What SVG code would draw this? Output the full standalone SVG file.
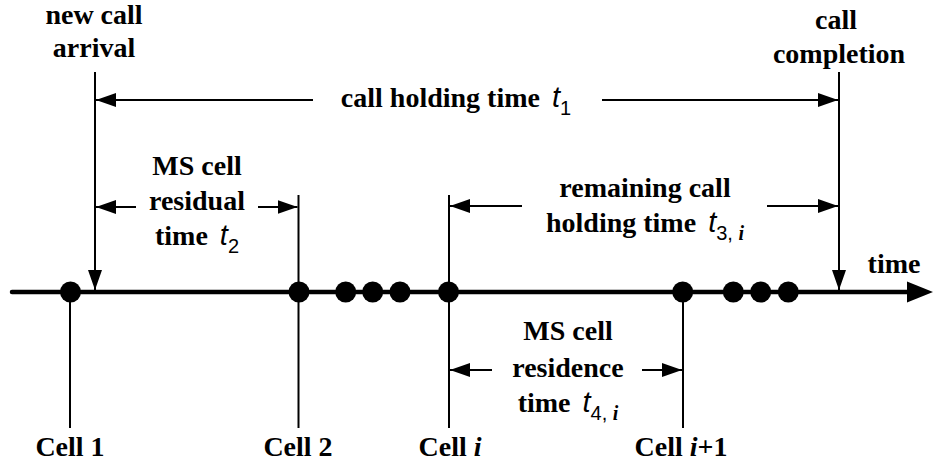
<svg xmlns="http://www.w3.org/2000/svg" width="934" height="467" viewBox="0 0 934 467">
  <style>
    .lbl { font-family: "Liberation Serif", "Times New Roman", serif; font-weight: bold; font-size: 28px; fill: #000; }
    .var { font-family: "Liberation Sans", Arial, sans-serif; font-style: italic; font-weight: normal; font-size: 29px; }
    .sub { font-family: "Liberation Sans", Arial, sans-serif; font-style: normal; font-weight: normal; font-size: 20px; }
    .idx { font-family: "Liberation Serif", "Times New Roman", serif; font-style: italic; font-weight: bold; }
    .thin { stroke: #000; stroke-width: 2; fill: none; }
    .dim { stroke: #000; stroke-width: 2; fill: none; marker-end: url(#ah); }
    .dot { fill: #000; }
  </style>
  <defs>
    <marker id="ah" viewBox="0 0 20 14" refX="20" refY="7" markerWidth="20" markerHeight="14" markerUnits="userSpaceOnUse" orient="auto">
      <path d="M0,0 L20,7 L0,14 z" fill="#000"/>
    </marker>
  </defs>

  <!-- time axis -->
  <g id="axis">
    <line x1="12" y1="292" x2="912" y2="292" stroke="#000" stroke-width="4.5" stroke-linecap="round"/>
    <polygon points="907,281.5 933,292 907,302.5" fill="#000"/>
    <text class="lbl" x="894" y="273" text-anchor="middle">time</text>
  </g>

  <!-- call events -->
  <g id="arrival">
    <line class="dim" x1="95" y1="72" x2="95" y2="290"/>
    <text class="lbl" x="94" y="24" text-anchor="middle">new call</text>
    <text class="lbl" x="94" y="57" text-anchor="middle">arrival</text>
  </g>
  <g id="completion">
    <line class="dim" x1="839" y1="72" x2="839" y2="290"/>
    <text class="lbl" x="836" y="29" text-anchor="middle">call</text>
    <text class="lbl" x="839" y="63" text-anchor="middle">completion</text>
  </g>

  <!-- cell boundaries -->
  <g id="cell1">
    <line class="thin" x1="70" y1="292" x2="70" y2="428"/>
    <circle class="dot" cx="70.5" cy="292" r="10.5"/>
    <text class="lbl" x="70" y="456" text-anchor="middle">Cell 1</text>
  </g>
  <g id="cell2">
    <line class="thin" x1="298.5" y1="195" x2="298.5" y2="428"/>
    <circle class="dot" cx="299" cy="292" r="10.5"/>
    <text class="lbl" x="298" y="456" text-anchor="middle">Cell 2</text>
  </g>
  <g id="gap1">
    <circle class="dot" cx="345.7" cy="292" r="10.5"/>
    <circle class="dot" cx="372.7" cy="292" r="10.5"/>
    <circle class="dot" cx="400" cy="292" r="10.5"/>
  </g>
  <g id="celli">
    <line class="thin" x1="449" y1="195" x2="449" y2="428"/>
    <circle class="dot" cx="448.5" cy="292" r="10.5"/>
    <text class="lbl" x="450" y="456" text-anchor="middle">Cell <tspan class="idx">i</tspan></text>
  </g>
  <g id="celli1">
    <line class="thin" x1="683" y1="292" x2="683" y2="428"/>
    <circle class="dot" cx="682.7" cy="292" r="10.5"/>
    <text class="lbl" x="681" y="456" text-anchor="middle">Cell <tspan class="idx">i</tspan>+1</text>
  </g>
  <g id="gap2">
    <circle class="dot" cx="733.3" cy="292" r="10.5"/>
    <circle class="dot" cx="760.7" cy="292" r="10.5"/>
    <circle class="dot" cx="788.3" cy="292" r="10.5"/>
  </g>

  <!-- interval dimension arrows -->
  <g id="connectors">
    <line class="dim" x1="313" y1="100" x2="96" y2="100"/>
    <line class="dim" x1="602" y1="100" x2="838" y2="100"/>
    <line class="dim" x1="136" y1="207" x2="96" y2="207"/>
    <line class="dim" x1="258" y1="207" x2="297.5" y2="207"/>
    <line class="dim" x1="522" y1="206" x2="450" y2="206"/>
    <line class="dim" x1="767" y1="206" x2="838" y2="206"/>
    <line class="dim" x1="492" y1="370" x2="450" y2="370"/>
    <line class="dim" x1="642" y1="370" x2="682" y2="370"/>
  </g>

  <!-- interval labels -->
  <g id="label-t1">
    <text class="lbl" x="456" y="107" text-anchor="middle">call holding time<tspan class="var" dx="12">t</tspan><tspan class="sub" dy="8">1</tspan></text>
  </g>
  <g id="label-t2">
    <text class="lbl" x="197" y="175" text-anchor="middle">MS cell</text>
    <text class="lbl" x="197" y="210" text-anchor="middle">residual</text>
    <text class="lbl" x="197" y="245" text-anchor="middle">time<tspan class="var" dx="12">t</tspan><tspan class="sub" dy="8">2</tspan></text>
  </g>
  <g id="label-t3">
    <text class="lbl" x="645" y="197" text-anchor="middle">remaining call</text>
    <text class="lbl" x="645" y="232" text-anchor="middle">holding time<tspan class="var" dx="12">t</tspan><tspan class="sub" dy="8">3, </tspan><tspan class="sub idx">i</tspan></text>
  </g>
  <g id="label-t4">
    <text class="lbl" x="568" y="340" text-anchor="middle">MS cell</text>
    <text class="lbl" x="568" y="377" text-anchor="middle">residence</text>
    <text class="lbl" x="568" y="412" text-anchor="middle">time<tspan class="var" dx="12">t</tspan><tspan class="sub" dy="8">4, </tspan><tspan class="sub idx">i</tspan></text>
  </g>
</svg>
